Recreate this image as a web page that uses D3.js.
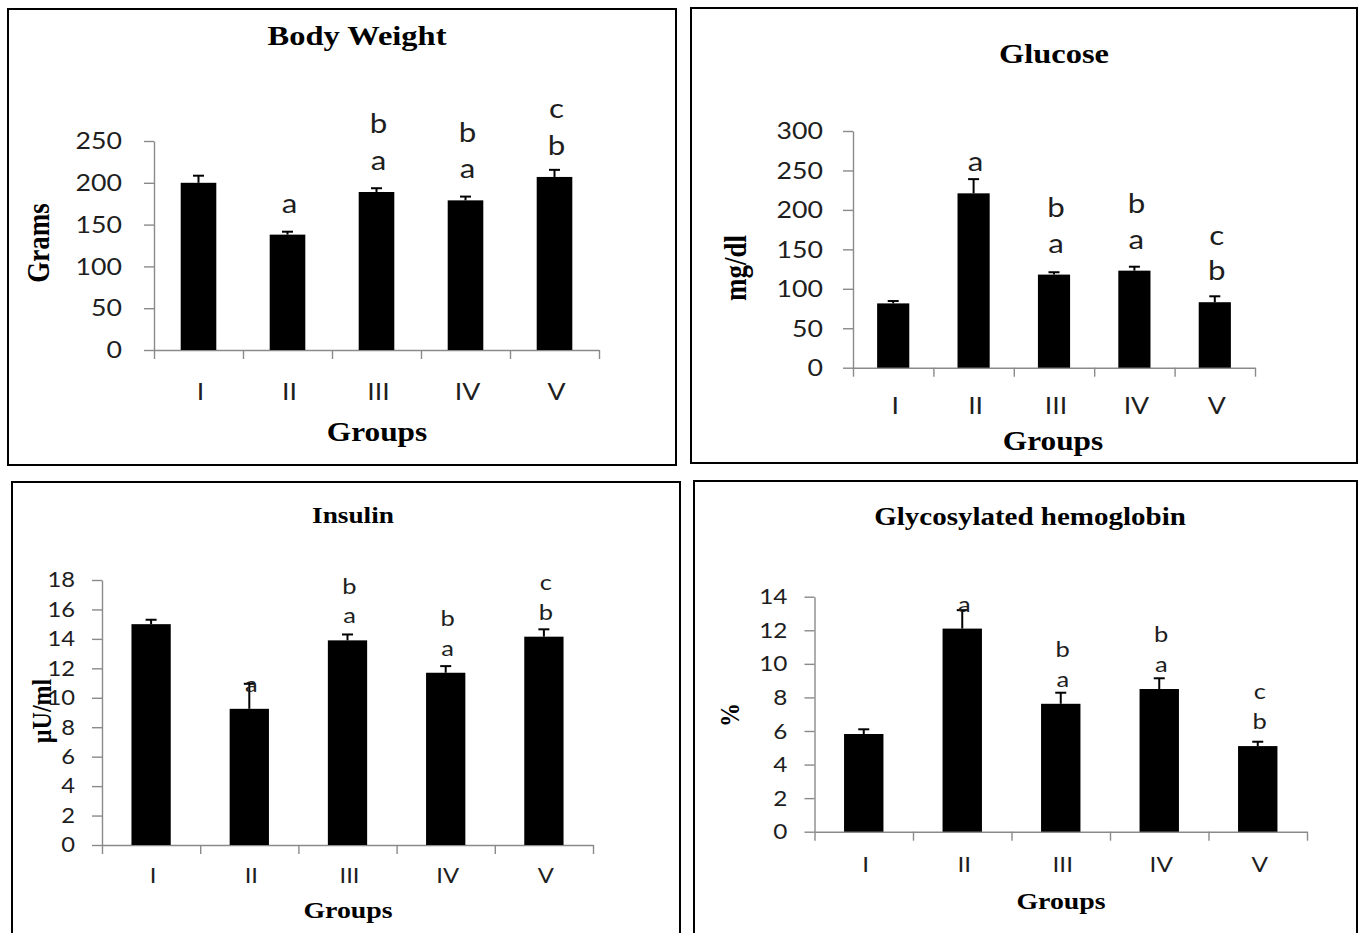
<!DOCTYPE html>
<html>
<head>
<meta charset="utf-8">
<script src="https://cdn.jsdelivr.net/npm/d3@7"></script>
<style>
    body { margin: 0; background: #fff; }
    svg { display: block; }
    .num { font-family: Lato, "Open Sans", sans-serif; fill: #1e1e1e; }
    .ttl { font-family: "Liberation Serif", "Times New Roman", serif; font-weight: bold; fill: #000; }
    .axis path, .axis line { stroke: #8a8a8a; stroke-width: 1.4; }
</style>
</head>
<body>
<svg id="chart" width="1359" height="933"></svg>
<script>
var groups = ["I", "II", "III", "IV", "V"];

var weightValues = [200, 138, 189, 179, 207];
var weightErrors = [8.5, 3.5, 4.5, 4.5, 8.5];
var weightLetters = [[], ["a"], ["b", "a"], ["b", "a"], ["c", "b"]];
var weightTicks = [0, 50, 100, 150, 200, 250];

var glucoseValues = [81.5, 221, 118, 123, 83];
var glucoseErrors = [3, 18, 3, 5, 7.5];
var glucoseLetters = [[], ["a"], ["b", "a"], ["b", "a"], ["c", "b"]];
var glucoseTicks = [0, 50, 100, 150, 200, 250, 300];

var insulinValues = [15.0, 9.25, 13.9, 11.7, 14.15];
var insulinErrors = [0.3, 1.7, 0.4, 0.45, 0.5];
var insulinLetters = [[], ["a"], ["b", "a"], ["b", "a"], ["c", "b"]];
var insulinTicks = [0, 2, 4, 6, 8, 10, 12, 14, 16, 18];

var hbValues = [5.82, 12.1, 7.62, 8.5, 5.1];
var hbErrors = [0.28, 1.1, 0.66, 0.64, 0.26];
var hbLetters = [[], ["a"], ["b", "a"], ["b", "a"], ["c", "b"]];
var hbTicks = [0, 2, 4, 6, 8, 10, 12, 14];

// the source picture is stretched sideways, so text is too
var SX = 1.16;

var panels = [
    {
        title: "Body Weight", yTitle: "Grams",
        values: weightValues, errors: weightErrors, letters: weightLetters, ticks: weightTicks,
        box: [8, 9, 668, 456], plot: { left: 154, right: 599, top: 141, bottom: 350 },
        titlePos: [357, 45], titleSize: 28, xTitlePos: [377, 441], yTitlePos: [39, 243], axisTitleSize: 27,
        catY: 400, tickFont: 23, tickGap: 32, letterFont: 27, letterBase: 22, letterStep: 36.5
    },
    {
        title: "Glucose", yTitle: "mg/dl",
        values: glucoseValues, errors: glucoseErrors, letters: glucoseLetters, ticks: glucoseTicks,
        box: [691, 8, 666, 455], plot: { left: 853, right: 1255, top: 131, bottom: 367.7 },
        titlePos: [1054, 63], titleSize: 28, xTitlePos: [1053, 450], yTitlePos: [736, 268], axisTitleSize: 27,
        catY: 414, tickFont: 23, tickGap: 30, letterFont: 27, letterBase: 22, letterStep: 35.5
    },
    {
        title: "Insulin", yTitle: "\u00b5U/ml",
        values: insulinValues, errors: insulinErrors, letters: insulinLetters, ticks: insulinTicks,
        box: [12, 482, 668, 470], plot: { left: 102, right: 593, top: 580, bottom: 845 },
        titlePos: [353, 523], titleSize: 23.5, xTitlePos: [348, 918], yTitlePos: [42, 711], axisTitleSize: 24,
        catY: 883, tickFont: 20.5, tickGap: 27, letterFont: 22, letterBase: 17, letterStep: 29.5
    },
    {
        title: "Glycosylated hemoglobin", yTitle: "%",
        values: hbValues, errors: hbErrors, letters: hbLetters, ticks: hbTicks,
        box: [694, 481, 663, 470], plot: { left: 814.5, right: 1307, top: 596.7, bottom: 831.7 },
        titlePos: [1030, 525], titleSize: 25, xTitlePos: [1061, 909], yTitlePos: [730, 715], axisTitleSize: 24,
        catY: 872, tickFont: 21, tickGap: 27, letterFont: 22, letterBase: 17, letterStep: 30
    }
];

var svg = d3.select("#chart");

function place(x, y) {
    return "translate(" + x + " " + y + ") scale(" + SX + " 1)";
}

function drawPanel(p) {
    var g = svg.append("g");

    g.append("rect")
        .attr("x", p.box[0]).attr("y", p.box[1])
        .attr("width", p.box[2]).attr("height", p.box[3])
        .attr("fill", "none").attr("stroke", "#000").attr("stroke-width", 2);

    var x = d3.scaleBand()
        .domain(groups)
        .range([p.plot.left, p.plot.right])
        .paddingInner(0.6)
        .paddingOuter(0.3);

    var y = d3.scaleLinear()
        .domain([0, p.ticks[p.ticks.length - 1]])
        .range([p.plot.bottom, p.plot.top]);

    // y axis: line + outside ticks, labels drawn separately
    g.append("g")
        .attr("class", "axis")
        .attr("transform", "translate(" + p.plot.left + ",0)")
        .call(d3.axisLeft(y).tickValues(p.ticks).tickSize(10).tickSizeOuter(0).tickFormat(""));

    // x axis: ticks sit on the category boundaries
    var bounds = d3.scaleLinear().domain([0, groups.length]).range([p.plot.left, p.plot.right]);
    g.append("g")
        .attr("class", "axis")
        .attr("transform", "translate(0," + p.plot.bottom + ")")
        .call(d3.axisBottom(bounds).tickValues(d3.range(groups.length + 1)).tickSize(9).tickSizeOuter(0).tickFormat(""));

    g.selectAll(".axis .domain").attr("fill", "none");

    g.selectAll("text.ytick")
        .data(p.ticks)
        .enter().append("text")
        .attr("class", "num ytick")
        .attr("text-anchor", "end")
        .attr("dy", "0.36em")
        .style("font-size", p.tickFont + "px")
        .attr("transform", function (d) {
            return place(p.plot.left - p.tickGap, y(d));
        })
        .text(function (d) { return d; });

    g.selectAll("text.xcat")
        .data(groups)
        .enter().append("text")
        .attr("class", "num xcat")
        .attr("text-anchor", "middle")
        .style("font-size", p.tickFont + "px")
        .attr("transform", function (d) {
            return place(x(d) + x.bandwidth() / 2 + 2, p.catY);
        })
        .text(function (d) { return d; });

    var rows = groups.map(function (name, i) {
        return { name: name, value: p.values[i], err: p.errors[i], letters: p.letters[i] };
    });

    g.selectAll("rect.bar")
        .data(rows)
        .enter().append("rect")
        .attr("class", "bar")
        .attr("x", function (d) { return x(d.name); })
        .attr("y", function (d) { return y(d.value); })
        .attr("width", x.bandwidth())
        .attr("height", function (d) { return y(0) - y(d.value); })
        .attr("fill", "#000");

    var err = g.selectAll("g.err")
        .data(rows)
        .enter().append("g")
        .attr("class", "err")
        .attr("stroke", "#000")
        .attr("stroke-width", 2);
    err.append("line")
        .attr("x1", function (d) { return x(d.name) + x.bandwidth() / 2; })
        .attr("x2", function (d) { return x(d.name) + x.bandwidth() / 2; })
        .attr("y1", function (d) { return y(d.value); })
        .attr("y2", function (d) { return y(d.value + d.err); });
    err.append("line")
        .attr("x1", function (d) { return x(d.name) + x.bandwidth() / 2 - 5.5; })
        .attr("x2", function (d) { return x(d.name) + x.bandwidth() / 2 + 5.5; })
        .attr("y1", function (d) { return y(d.value + d.err); })
        .attr("y2", function (d) { return y(d.value + d.err); });

    // significance letters, stacked upwards from the bar top
    rows.forEach(function (d) {
        var n = d.letters.length;
        d.letters.forEach(function (letter, k) {
            var row = n - 1 - k;
            g.append("text")
                .attr("class", "num")
                .attr("text-anchor", "middle")
                .style("font-size", p.letterFont + "px")
                .attr("transform", place(x(d.name) + x.bandwidth() / 2 + 2,
                    y(d.value) - p.letterBase - row * p.letterStep))
                .text(letter);
        });
    });

    g.append("text")
        .attr("class", "ttl")
        .attr("text-anchor", "middle")
        .style("font-size", p.titleSize + "px")
        .attr("transform", place(p.titlePos[0], p.titlePos[1]))
        .text(p.title);

    g.append("text")
        .attr("class", "ttl")
        .attr("text-anchor", "middle")
        .style("font-size", p.axisTitleSize + "px")
        .attr("transform", place(p.xTitlePos[0], p.xTitlePos[1]))
        .text("Groups");

    g.append("text")
        .attr("class", "ttl")
        .attr("text-anchor", "middle")
        .attr("dy", "0.33em")
        .style("font-size", p.axisTitleSize + "px")
        .attr("transform", place(p.yTitlePos[0], p.yTitlePos[1]) + " rotate(-90)")
        .text(p.yTitle);
}

panels.forEach(drawPanel);
</script>
</body>
</html>
